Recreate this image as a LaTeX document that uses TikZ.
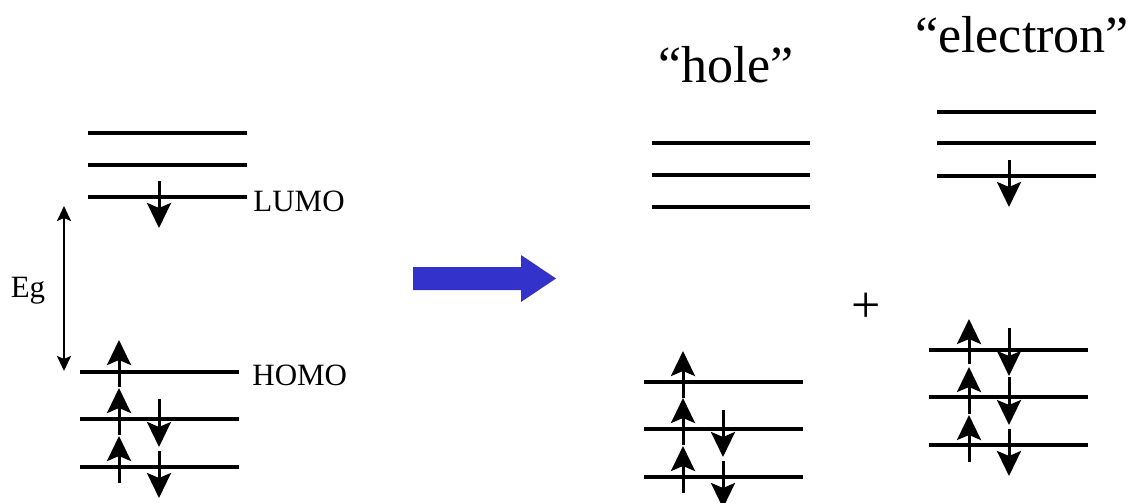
\documentclass[tikz,border=0pt]{standalone}
\usepackage{fontspec}
\setmainfont{Liberation Serif}
\usetikzlibrary{arrows.meta}

\definecolor{arrowblue}{HTML}{3333CC}

\tikzset{
  level/.style={line width=2pt},
  spin/.style={line width=1.5pt, -{Stealth[length=12.5pt, width=12pt, inset=2.5pt]}},
  gaparrow/.style={line width=1pt, {Stealth[length=7.5pt, width=7pt, inset=1.5pt]}-{Stealth[length=7.5pt, width=7pt, inset=1.5pt]}},
  lbl/.style={inner sep=0pt, font=\fontsize{15.5pt}{18pt}\selectfont},
  big/.style={inner sep=0pt, font=\fontsize{26pt}{31pt}\selectfont}
}

\begin{document}
\begin{tikzpicture}[x=0.5pt, y=-0.5pt]
  \useasboundingbox (0,0) rectangle (1136,503);

  % Ground state levels
  \draw[level] (88,133) -- (247,133);
  \draw[level] (88,165) -- (247,165);
  \draw[level] (88,197) -- (247,197);
  \draw[level] (80,372) -- (239,372);
  \draw[level] (80,419) -- (239,419);
  \draw[level] (80,467) -- (239,467);

  % Ground state spins
  \draw[spin] (159,181) -- (159,228);
  \draw[spin] (119,387) -- (119,340);
  \draw[spin] (119,435) -- (119,388);
  \draw[spin] (119,483) -- (119,436);
  \draw[spin] (159,399) -- (159,447);
  \draw[spin] (159,451) -- (159,498);

  % Labels and gap
  \node[lbl, anchor=west] (lumo) at (253,201) {LUMO};
  \node[lbl, anchor=west] (homo) at (252,375) {HOMO};
  \node[lbl, anchor=base] (eg) at (28,297) {Eg};
  \coordinate (gaptop) at (64,206);
  \coordinate (gapbot) at (64,371);
  \draw[gaparrow] (gaptop) -- (gapbot);

  % Transition arrow
  \fill[arrowblue] (413,267) -- (521,267) -- (521,255) -- (556,278.5)
    -- (521,302) -- (521,290) -- (413,290) -- cycle;

  % "hole" levels
  \node[big, anchor=base] (hole) at (726,83) {“hole”};
  \draw[level] (652,143) -- (810,143);
  \draw[level] (652,175) -- (810,175);
  \draw[level] (652,207) -- (810,207);
  \draw[level] (644,382) -- (803,382);
  \draw[level] (644,429) -- (803,429);
  \draw[level] (644,477) -- (803,477);
  \draw[spin] (683,398) -- (683,351);
  \draw[spin] (683,445) -- (683,398);
  \draw[spin] (683,493) -- (683,446);
  \draw[spin] (723,410) -- (723,457);
  \draw[spin] (723,461) -- (723,508);

  \node[big] (plus) at (866,308) {+};

  % "electron" levels
  \node[big, anchor=base] (electron) at (1022,53) {“electron”};
  \draw[level] (937,112) -- (1096,112);
  \draw[level] (937,143) -- (1096,143);
  \draw[level] (937,176) -- (1096,176);
  \draw[spin] (1009,160) -- (1009,207);
  \draw[level] (929,350) -- (1088,350);
  \draw[level] (929,397) -- (1088,397);
  \draw[level] (929,445) -- (1088,445);
  \draw[spin] (969,364) -- (969,319);
  \draw[spin] (969,414) -- (969,367);
  \draw[spin] (969,462) -- (969,415);
  \draw[spin] (1009,328) -- (1009,376);
  \draw[spin] (1009,377) -- (1009,425);
  \draw[spin] (1009,429) -- (1009,476);
\end{tikzpicture}
\end{document}
